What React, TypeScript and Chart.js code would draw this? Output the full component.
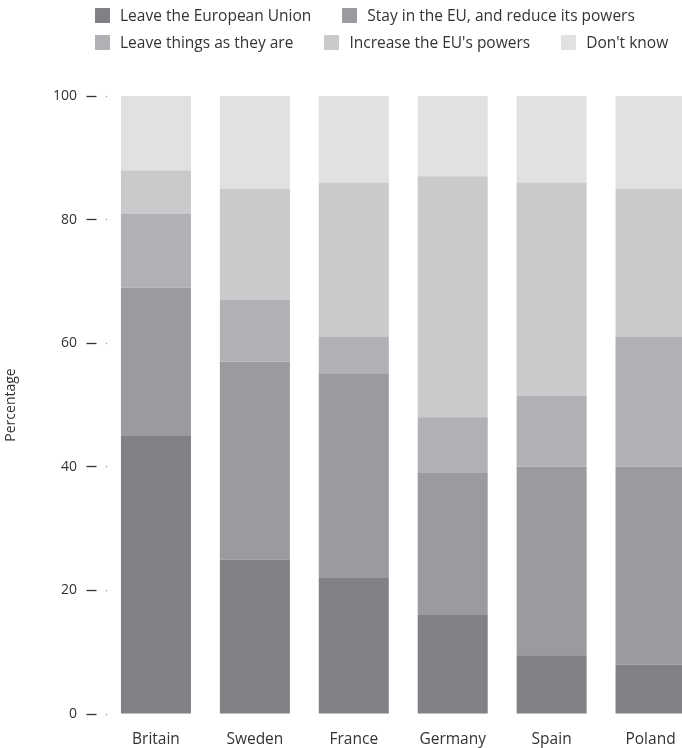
import React, { useEffect, useRef } from 'react';
import { Chart, registerables } from 'chart.js';

Chart.register(...registerables);

const categories = ['Britain', 'Sweden', 'France', 'Germany', 'Spain', 'Poland'];
const seriesNames = [
  'Leave the European Union',
  'Stay in the EU, and reduce its powers',
  'Leave things as they are',
  "Increase the EU's powers",
  "Don't know",
];
const leaveEU = [45, 25, 22, 16, 9.5, 8];
const stayReduce = [24, 32, 33, 23, 30.5, 32];
const leaveThings = [12, 10, 6, 9, 11.5, 21];
const increasePowers = [7, 18, 25, 39, 34.5, 24];
const dontKnow = [12, 15, 14, 13, 14, 15];
const seriesValues = [leaveEU, stayReduce, leaveThings, increasePowers, dontKnow];
const yTickValues = [0, 20, 40, 60, 80, 100];
const seriesColors = ['#808185', '#9a9b9f', '#b0b1b5', '#c9cacc', '#e0e1e3'];

const FONT = "'Open Sans', sans-serif";
const TEXT = '#333333';

export default function App() {
  const canvasRef = useRef<HTMLCanvasElement | null>(null);

  useEffect(() => {
    if (!canvasRef.current) return;
    const chart = new Chart(canvasRef.current, {
      type: 'bar',
      data: {
        labels: categories,
        datasets: seriesNames.map((name, i) => ({
          label: name,
          data: seriesValues[i],
          backgroundColor: seriesColors[i],
          borderWidth: 0,
          categoryPercentage: 1,
          barPercentage: 0.708,
        })),
      },
      options: {
        animation: false,
        responsive: true,
        maintainAspectRatio: false,
        layout: { padding: { top: 96, left: 0, right: 0, bottom: 0 } },
        plugins: {
          legend: { display: false },
          tooltip: { enabled: false },
        },
        scales: {
          x: {
            stacked: true,
            grid: { display: false, drawTicks: false },
            border: { display: false },
            ticks: { color: TEXT, font: { family: FONT, size: 15.5 }, padding: 16 },
            afterFit: (s: any) => {
              s.height = 34;
            },
          },
          y: {
            stacked: true,
            min: 0,
            max: 100,
            afterBuildTicks: (s: any) => {
              s.ticks = yTickValues.map((v) => ({ value: v }));
            },
            grid: {
              display: true,
              drawOnChartArea: false,
              drawTicks: true,
              tickLength: 20,
              tickBorderDash: [10, 10],
              tickColor: TEXT,
              tickWidth: 1.3,
            },
            border: { display: false },
            ticks: { color: TEXT, font: { family: FONT, size: 14 }, padding: 9.5 },
            title: {
              display: true,
              text: 'Percentage',
              color: TEXT,
              font: { family: FONT, size: 14 },
              padding: { top: 3, bottom: 0 },
            },
            afterFit: (s: any) => {
              s.width = 106.5;
            },
          },
        },
      },
    });
    return () => chart.destroy();
  }, []);

  return (
    <div
      style={{
        position: 'fixed',
        left: 0,
        top: 0,
        width: 682,
        height: 748,
        overflow: 'hidden',
        background: '#ffffff',
      }}
    >
      <div style={{ position: 'relative', width: 700, height: 748 }}>
        <canvas ref={canvasRef} />
      </div>
      <div
        style={{
          position: 'absolute',
          left: 95,
          top: 7,
          width: 590,
          display: 'flex',
          flexWrap: 'wrap',
          columnGap: 31,
          rowGap: 10,
          fontFamily: FONT,
          fontSize: 15.5,
          color: TEXT,
          lineHeight: '17px',
        }}
      >
        {seriesNames.map((name, i) => (
          <div key={name} style={{ display: 'flex', alignItems: 'center' }}>
            <span
              style={{
                display: 'inline-block',
                width: 15,
                height: 15,
                background: seriesColors[i],
                marginRight: 10,
              }}
            />
            <span>{name}</span>
          </div>
        ))}
      </div>
    </div>
  );
}
